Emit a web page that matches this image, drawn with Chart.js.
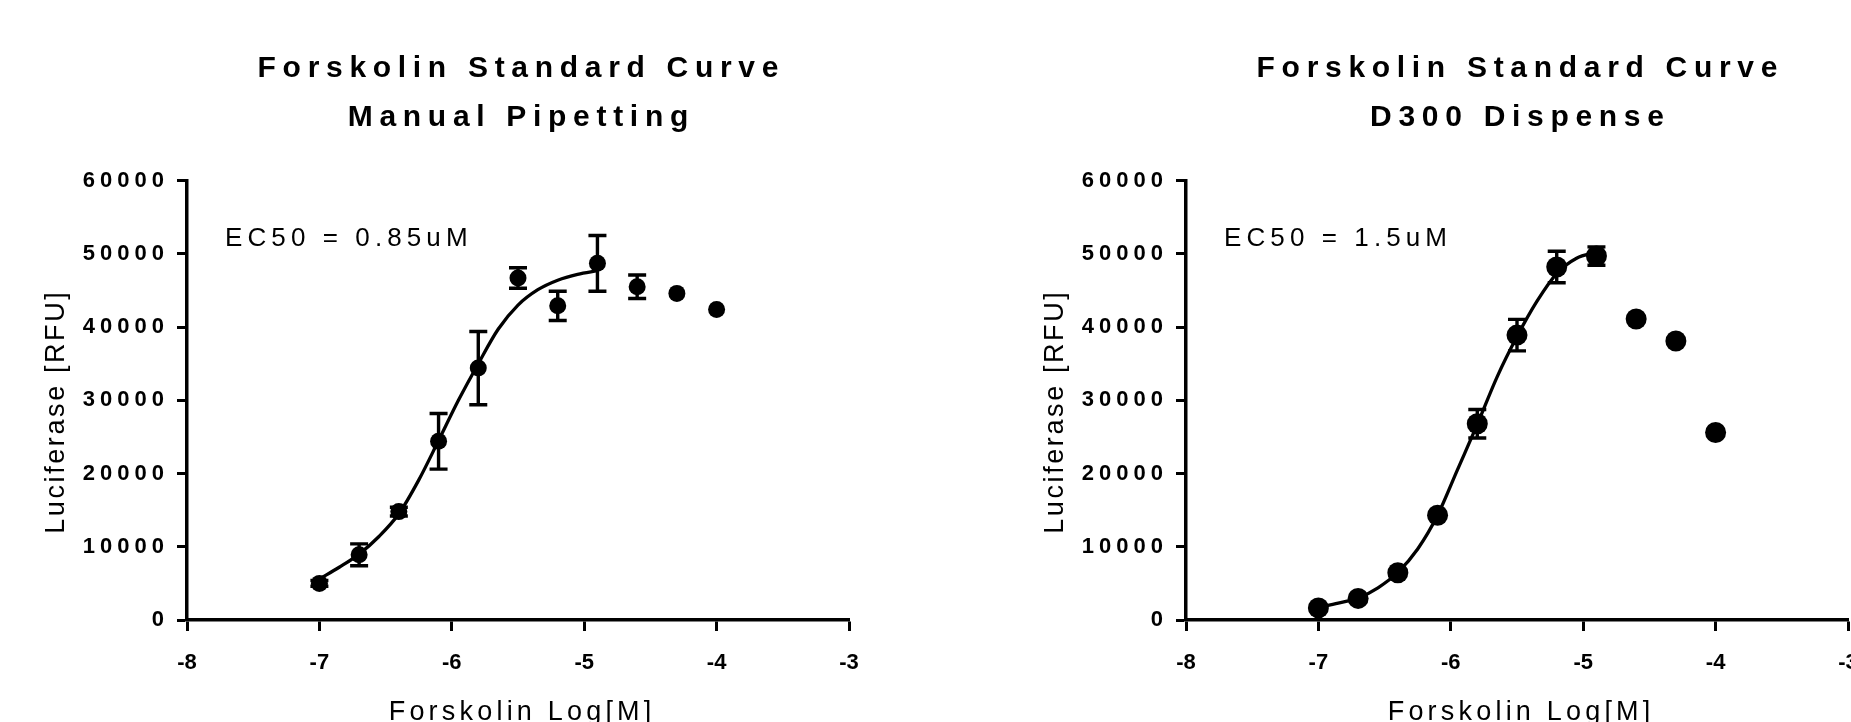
<!DOCTYPE html>
<html>
<head>
<meta charset="utf-8">
<title>Forskolin Standard Curve</title>
<script src="https://cdn.jsdelivr.net/npm/chart.js@4.4.1/dist/chart.umd.min.js"></script>
<style>
  html, body { margin: 0; padding: 0; background: #fff; overflow: hidden; }
  body { width: 1851px; height: 722px; position: relative; }
  .panel { position: absolute; top: 0; width: 1000px; height: 722px; }
  #panelA { left: 0; }
  #panelB { left: 999px; }
</style>
</head>
<body>
<div class="panel" id="panelA"><canvas id="chartA" width="1000" height="722"></canvas></div>
<div class="panel" id="panelB"><canvas id="chartB" width="1000" height="722"></canvas></div>
<script>
// data
const logConc = [-7, -6.7, -6.4, -6.1, -5.8, -5.5, -5.2, -4.9, -4.6, -4.3, -4.0];
const manualMean = [5000, 8900, 14800, 24400, 34400, 46700, 42900, 48700, 45500, 44600, 42400];
const manualSem = [400, 1500, 600, 3800, 5000, 1400, 2000, 3800, 1600, 0, 0];
const d300Mean = [1650, 2950, 6450, 14300, 26800, 38900, 48200, 49700, 41100, 38100, 25600];
const d300Sem = [0, 0, 0, 0, 1950, 2150, 2150, 1250, 0, 0, 0];

// fitted curve
const fitLogConc = [-7, -6.85, -6.7, -6.55, -6.4, -6.25, -6.1, -5.95, -5.8, -5.65, -5.5, -5.35, -5.2, -5.05, -4.9];
const manualFit = [5600, 7200, 9000, 11400, 14500, 19100, 24500, 30000, 35000, 39700, 43000, 45100, 46400, 47200, 47700];
const d300Fit = [1700, 2300, 3000, 4400, 6500, 9700, 14300, 20500, 26700, 33200, 38700, 43500, 47300, 49400, 50200];

const xTicks = [-8, -7, -6, -5, -4, -3];
const yTicks = [0, 10000, 20000, 30000, 40000, 50000, 60000];

const FONT = "'Liberation Sans', Arial, Helvetica, sans-serif";

const pts = (xs, ys) => xs.map((x, i) => ({ x: x, y: ys[i] }));

function spaced(ctx, text, x, y, font, sp, align) {
    ctx.font = font;
    ctx.letterSpacing = sp + 'px';
    ctx.textAlign = align;
    // canvas adds the spacing after the last glyph too
    const shift = align === 'center' ? sp / 2 : 0;
    ctx.fillText(text, x + shift, y);
}

const errorBars = {
    id: 'errorBars',
    beforeDatasetsDraw(chart) {
        const { ctx, scales: { x, y } } = chart;
        chart.data.datasets.forEach(ds => {
            if (!ds.sem) return;
            ctx.save();
            ctx.strokeStyle = '#000';
            ctx.lineWidth = 3.4;
            ds.data.forEach((p, i) => {
                const e = ds.sem[i];
                if (!e) return;
                const px = x.getPixelForValue(p.x);
                const top = y.getPixelForValue(p.y + e);
                const bot = y.getPixelForValue(p.y - e);
                ctx.beginPath();
                ctx.moveTo(px, top); ctx.lineTo(px, bot);
                ctx.moveTo(px - 9, top); ctx.lineTo(px + 9, top);
                ctx.moveTo(px - 9, bot); ctx.lineTo(px + 9, bot);
                ctx.stroke();
            });
            ctx.restore();
        });
    }
};

const prismText = {
    id: 'prismText',
    // y tick labels are drawn before the datasets, x ones after (x ticks have z: 1)
    beforeDraw(chart) {
        chart.ctx.letterSpacing = '5px';
    },
    afterDatasetsDraw(chart) {
        chart.ctx.letterSpacing = '0px';
    },
    afterDraw(chart, args, opts) {
        const { ctx, chartArea: a } = chart;
        const cx = (a.left + a.right) / 2;
        ctx.save();
        ctx.fillStyle = '#000';
        ctx.textBaseline = 'alphabetic';
        spaced(ctx, opts.title[0], cx, 77, 'bold 30px ' + FONT, 6.7, 'center');
        spaced(ctx, opts.title[1], cx, 126, 'bold 30px ' + FONT, 6.7, 'center');
        spaced(ctx, opts.note, 225, 246, '26px ' + FONT, 5.1, 'left');
        spaced(ctx, opts.xTitle, cx + 2, 720, '27px ' + FONT, 4.2, 'center');
        ctx.translate(64, 413);
        ctx.rotate(-Math.PI / 2);
        spaced(ctx, opts.yTitle, 0, 0, '27px ' + FONT, 2.6, 'center');
        ctx.restore();
    }
};

function makeChart(id, title, note, mean, sem, fit, radius) {
    return new Chart(document.getElementById(id), {
        type: 'scatter',
        data: {
            datasets: [
                {
                    data: pts(logConc, mean),
                    sem: sem,
                    pointRadius: radius,
                    pointBackgroundColor: '#000',
                    pointBorderWidth: 0,
                    clip: false
                },
                {
                    data: pts(fitLogConc, fit),
                    showLine: true,
                    borderColor: '#000',
                    borderWidth: 3.3,
                    pointRadius: 0,
                    cubicInterpolationMode: 'monotone',
                    clip: false
                }
            ]
        },
        options: {
            responsive: false,
            animation: false,
            events: [],
            layout: { padding: { left: 0, top: 180.6, right: 151, bottom: 0 } },
            plugins: {
                legend: { display: false },
                tooltip: { enabled: false },
                prismText: {
                    title: title,
                    note: note,
                    xTitle: 'Forskolin Log[M]',
                    yTitle: 'Luciferase [RFU]'
                }
            },
            scales: {
                x: {
                    type: 'linear',
                    min: xTicks[0],
                    max: xTicks[xTicks.length - 1],
                    afterBuildTicks: s => { s.ticks = xTicks.map(v => ({ value: v })); },
                    afterFit: s => { s.height = 102; },
                    grid: { drawOnChartArea: false, drawTicks: true, tickLength: 11, tickWidth: 3, tickColor: '#000' },
                    border: { color: '#000', width: 3.5 },
                    ticks: {
                        z: 1,
                        color: '#000',
                        font: { family: FONT, size: 22, weight: 'bold' },
                        padding: 19,
                        maxRotation: 0,
                        autoSkip: false,
                        callback: v => String(v)
                    }
                },
                y: {
                    type: 'linear',
                    min: yTicks[0],
                    max: yTicks[yTicks.length - 1],
                    afterBuildTicks: s => { s.ticks = yTicks.map(v => ({ value: v })); },
                    afterFit: s => { s.width = 187; },
                    grid: { drawOnChartArea: false, drawTicks: true, tickLength: 10, tickWidth: 3, tickColor: '#000' },
                    border: { color: '#000', width: 3.5 },
                    ticks: {
                        color: '#000',
                        font: { family: FONT, size: 22, weight: 'bold' },
                        padding: 8,
                        autoSkip: false,
                        callback: v => String(v)
                    }
                }
            }
        },
        plugins: [errorBars, prismText]
    });
}

makeChart('chartA', ['Forskolin Standard Curve', 'Manual Pipetting'], 'EC50 = 0.85uM',
    manualMean, manualSem, manualFit, 8.5);
makeChart('chartB', ['Forskolin Standard Curve', 'D300 Dispense'], 'EC50 = 1.5uM',
    d300Mean, d300Sem, d300Fit, 10.5);
</script>
</body>
</html>
